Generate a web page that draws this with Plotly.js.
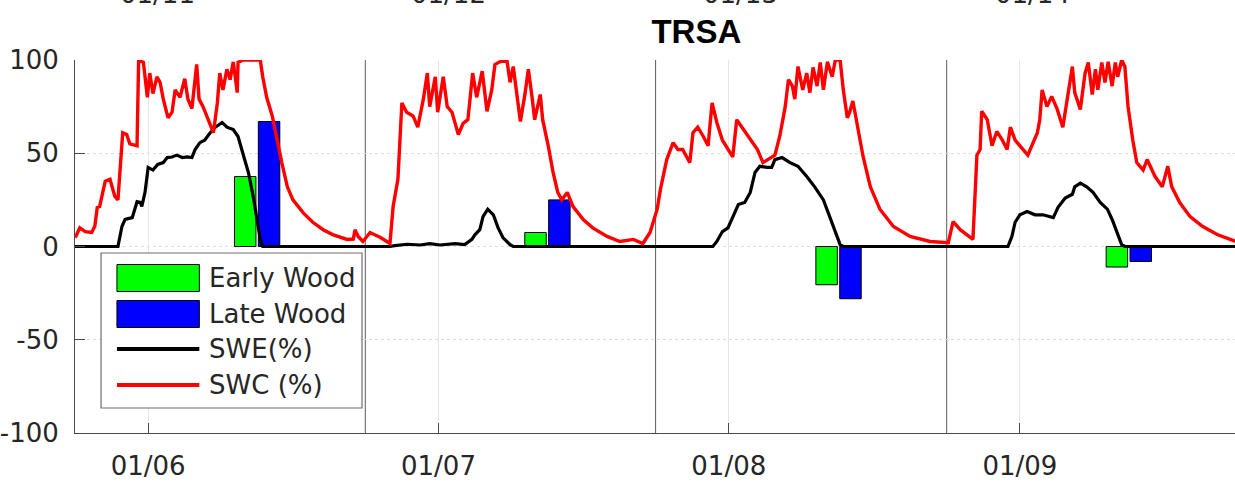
<!DOCTYPE html>
<html>
<head>
<meta charset="utf-8">
<script src="https://cdn.plot.ly/plotly-3.0.1.min.js"></script>
<style>
  html, body { margin: 0; padding: 0; background: #fff; overflow: hidden; }
  #chart { width: 1240px; height: 482px; }
</style>
</head>
<body>
<div id="chart"></div>
<script>
// Days are counted from the start of the record (1 Oct 2005).
const recordStart = Date.UTC(2005, 9, 1);

// Soil water content (%), day offset / value pairs
const swcDay = [0,1,6,13,21,25,28,31,38,44,50,54,57,60,65,69,78,80,86,91,94,98,103,107,111,117,122,126,132,138,142,147,153,156,161,167,174,179,182,186,191,195,199,204,205,211,233,236,241,248,254,260,267,274,287,299,312,324,342,350,352,356,362,
  371,384,396,400,406,411,417,425,431,438,443,446,453,456,463,468,474,482,488,494,500,505,512,518,524,528,534,543,547,551,556,560,566,570,575,578,585,588,595,601,607,612,619,626,639,651,669,685,702,714,723,728,732,
  736,744,752,758,764,773,777,783,790,796,801,807,814,821,827,832,840,849,858,865,874,880,886,893,897,902,905,909,915,920,924,928,933,937,941,946,952,956,962,966,971,974,978,985,991,1000,1012,1029,1050,1075,1098,
  1104,1113,1129,1134,1138,1140,1147,1153,1159,1166,1172,1176,1182,1188,1198,1210,1213,1216,1222,1228,1235,1242,1249,1254,1257,1264,1270,1274,1279,1283,1286,1291,1295,1299,1304,1308,1311,1316,1320,1324,1330,1335,1339,1343,1348,1352,1358,1367,1374,1379,1389,1402,1418,1436,1452,1461];
const swcPct = [5,5.4,10,8,7.5,11,21,21.5,35,36,27,25,43,61,60,55,54,100,98.7,80,93,82,91,88,79,69,72,84,80,90,79,74,97.6,79,75,68,61,77,93,84,95,89.5,99,82.5,98.7,100,100,91,80,70,57,45,32,25,18,13,9,6.4,3.8,4,9,5.4,2.7,
  7.5,4.8,1.6,21.5,36,77,72,70,64,79,93,75,91,72,91,75,72,60,66,68,93,80,94,72.5,84,97.6,99,100,88,96.5,79,67,82.5,95,79,68,81.5,68,54,40,29,25,29,21.5,14.5,10,5.4,2.7,3.8,1.6,7.5,14.5,20,
  30.5,46.6,55.7,52,52,45,61,64,59,54,77,66.5,57,52,48,68,63,57,52,45,47.7,49,59,75,89.5,86,79,96.5,84,93,82.5,96,86,98.7,84,99,91,100,100,84,69,72,78,63,48,32,20,10.7,5.4,2.7,2,
  13.4,9,3.8,49,52,72.5,68,54,61.7,57,52,64,57,54,49,61,68,84,75,80.5,73.5,64,84,96.5,82.5,73.5,93,98.7,81.5,95,84,98.7,88,99,86,98.7,91,100,96.5,75,57,45,43,41,46.6,43,37.5,32,43,32,23.6,16,10.7,6.4,3.8,2.5];

// Snow water equivalent (%), day offset / value pairs
const sweDay = [0,54,59,63,72,78,82,84,88,92,98,104,111,116,122,128,135,141,147,151,157,163,170,176,185,191,199,205,211,218,224,229,233,236,
  396,402,418,434,446,459,478,490,499,503,509,513,519,526,532,538,547,551,
  802,807,814,821,827,834,842,849,855,861,870,876,880,889,899,909,920,930,941,949,956,962,966,
  1173,1178,1182,1188,1197,1207,1217,1230,1236,1245,1254,1257,1264,1272,1280,1289,1298,1304,1310,1316,1320,1461];
const swePct = [0,0,10.7,14.5,15.5,24,23.6,21.5,29,42.4,41,44,45,47.7,48,49,47.7,48,47.7,52,55.7,57,61,63.8,66.5,64,62.7,59,50,39.7,27,14.5,3.8,0,
  0,0.5,1.2,0.8,1.5,0.8,1.5,1,3.8,6.4,9,16,20,17,10,4.8,1,0,
  0,2.7,8,10,16,22.5,23.6,29,39.7,43,42.4,42.4,46.6,47.7,45,43,37.5,32,25,16,8,1,0,
  0,5.4,13,17,18.8,17,17,15.5,21,26,28,32,34,32,29,23.6,20,14.5,7.5,1,0,0];

// Ring-width anomalies (%) per growing season
const earlyWoodDate = ['2006-05-03', '2007-05-03', '2008-05-03', '2009-05-03'];
const lateWoodDate  = ['2006-06-02', '2007-06-02', '2008-06-02', '2009-06-02'];
const earlyWood = [37.5, 7.5, -20.5, -11];
const lateWood  = [67, 25, -28, -8];

// Axis ticks and water-year boundaries
const tickDates = ['2006-01-01', '2007-01-01', '2008-01-01', '2009-01-01'];
const tickText  = ['01/06', '01/07', '01/08', '01/09'];
const yTickVals = [-100, -50, 0, 50, 100];
const yTickText = ['-100', '-50', '0', '50', '100'];
const upperTickText = ['01/11', '01/12', '01/13', '01/14'];
const waterYearStarts = ['2006-10-01', '2007-10-01', '2008-10-01'];

const toDate = d => new Date(recordStart + d * 86400000).toISOString().slice(0, 10);

const FONT = 'DejaVu Sans, Arial, sans-serif';
const TEXT = '#262626';
const barWidth = 27 * 86400000;

const traces = [
  { type: 'bar', name: 'Early Wood', x: earlyWoodDate, y: earlyWood, width: barWidth,
    marker: { color: '#00ff00', line: { color: '#000', width: 1 } }, showlegend: false },
  { type: 'bar', name: 'Late Wood', x: lateWoodDate, y: lateWood, width: barWidth,
    marker: { color: '#0000ff', line: { color: '#000', width: 1 } }, showlegend: false },
  { type: 'scatter', mode: 'lines', name: 'SWE(%)', x: sweDay.map(toDate), y: swePct,
    line: { color: '#000000', width: 3.2 }, showlegend: false },
  { type: 'scatter', mode: 'lines', name: 'SWC (%)', x: swcDay.map(toDate), y: swcPct,
    line: { color: '#ff0000', width: 3.4 }, showlegend: false }
];

// Hand-built legend box (wide swatches) in paper coordinates
const legendItems = [
  { label: 'Early Wood', kind: 'rect', color: '#00ff00' },
  { label: 'Late Wood',  kind: 'rect', color: '#0000ff' },
  { label: 'SWE(%)',     kind: 'line', color: '#000000' },
  { label: 'SWC (%)',    kind: 'line', color: '#ff0000' }
];
const L = { x0: 0.0224, x1: 0.2470, y0: 0.0670, y1: 0.4826,
            sx0: 0.0361, sx1: 0.1070, tx: 0.1136,
            rows: [0.4155, 0.3190, 0.2252, 0.1287], half: 0.0362 };

const shapes = [];
waterYearStarts.forEach(d => shapes.push({
  type: 'line', xref: 'x', yref: 'paper', x0: d, x1: d, y0: 0, y1: 1,
  line: { color: '#5a5a5a', width: 1 }, layer: 'below'
}));
shapes.push({ type: 'rect', xref: 'paper', yref: 'paper', x0: L.x0, x1: L.x1, y0: L.y0, y1: L.y1,
  fillcolor: '#ffffff', line: { color: '#6e6e6e', width: 1.2 }, layer: 'above' });

const annotations = [];
legendItems.forEach((it, i) => {
  const yc = L.rows[i];
  if (it.kind === 'rect') {
    shapes.push({ type: 'rect', xref: 'paper', yref: 'paper', x0: L.sx0, x1: L.sx1,
      y0: yc - L.half, y1: yc + L.half, fillcolor: it.color, line: { color: '#000', width: 1 }, layer: 'above' });
  } else {
    shapes.push({ type: 'line', xref: 'paper', yref: 'paper', x0: L.sx0, x1: L.sx1,
      y0: yc, y1: yc, line: { color: it.color, width: 4 }, layer: 'above' });
  }
  annotations.push({ xref: 'paper', yref: 'paper', x: L.tx, y: yc, xanchor: 'left', yanchor: 'middle',
    text: it.label, showarrow: false, font: { family: FONT, size: 26, color: TEXT } });
});

// Date labels of the panel above, clipped by the top edge
const upperX = [0.0714, 0.3210, 0.5731, 0.8236];
upperTickText.forEach((t, i) => annotations.push({
  xref: 'paper', yref: 'paper', x: upperX[i], y: 1.176, xanchor: 'center', yanchor: 'middle',
  text: t, showarrow: false, font: { family: FONT, size: 26, color: TEXT }
}));

const layout = {
  width: 1240, height: 482,
  margin: { l: 75, r: 3, t: 60, b: 49, pad: 0 },
  paper_bgcolor: '#ffffff', plot_bgcolor: '#ffffff',
  showlegend: false,
  barmode: 'overlay',
  title: { text: '<b>TRSA</b>', x: 0.5616, xanchor: 'center', y: 0.935, yanchor: 'middle',
           font: { family: 'Liberation Sans, Arial, sans-serif', size: 33, color: '#000' } },
  xaxis: {
    type: 'date', range: ['2005-10-01', '2009-10-01'],
    tickmode: 'array', tickvals: tickDates, ticktext: tickText,
    ticks: 'inside', ticklen: 10, tickwidth: 1, tickcolor: '#4a4a4a',
    showline: true, linecolor: '#4a4a4a', linewidth: 1, mirror: false,
    showgrid: true, gridcolor: '#e6e6e6', gridwidth: 1,
    zeroline: false, ticklabelstandoff: 10,
    tickfont: { family: FONT, size: 26, color: TEXT }
  },
  yaxis: {
    range: [-100, 100], tickmode: 'array', tickvals: yTickVals, ticktext: yTickText,
    ticks: 'inside', ticklen: 10, tickwidth: 1, tickcolor: '#4a4a4a',
    showline: true, linecolor: '#4a4a4a', linewidth: 1, mirror: false,
    showgrid: true, gridcolor: '#dedede', gridwidth: 1, griddash: 'dot',
    zeroline: false, ticklabelstandoff: 10,
    tickfont: { family: FONT, size: 26, color: TEXT }
  },
  shapes: shapes,
  annotations: annotations
};

Plotly.newPlot('chart', traces, layout, { displayModeBar: false, staticPlot: true });
</script>
</body>
</html>
